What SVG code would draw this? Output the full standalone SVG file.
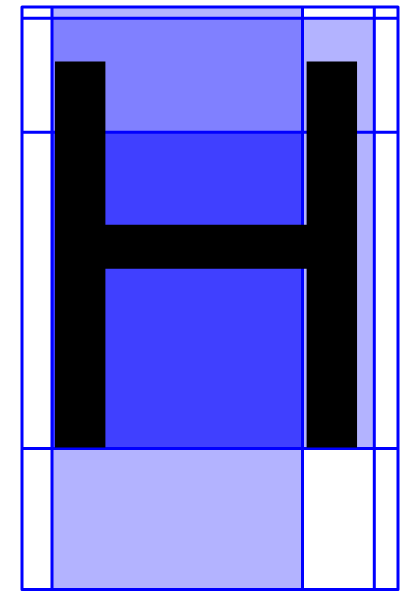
<svg xmlns="http://www.w3.org/2000/svg" width="410" height="591" viewBox="0 0 410 591">
  <style>
    .l1 { fill: #b3b3ff; }
    .l2 { fill: #8080ff; }
    .l3 { fill: #4040ff; }
    .ln { stroke: #0000ff; stroke-width: 3; fill: none; stroke-linejoin: round; }
    .glyph { font-family: "Liberation Sans", Arial, sans-serif; font-size: 561px; fill: #000000; }
  </style>
  <rect width="410" height="591" fill="#ffffff"/>
  <g id="areas">
    <rect class="l1" x="52" y="7" width="250.5" height="583"/>
    <rect class="l1" x="302.5" y="18.3" width="71.8" height="430.2"/>
    <rect class="l2" x="52" y="18.3" width="250.5" height="114"/>
    <rect class="l3" x="52" y="132.3" width="250.5" height="316.2"/>
  </g>
  <g id="lines">
    <rect class="ln" x="22" y="7" width="376" height="582.5"/>
    <line class="ln" x1="22" y1="18.3" x2="398" y2="18.3"/>
    <line class="ln" x1="22" y1="132.3" x2="398" y2="132.3"/>
    <line class="ln" x1="22" y1="448.5" x2="398" y2="448.5"/>
    <line class="ln" x1="52" y1="7" x2="52" y2="589.5"/>
    <line class="ln" x1="302.5" y1="7" x2="302.5" y2="589.5"/>
    <line class="ln" x1="374.3" y1="7" x2="374.3" y2="589.5"/>
  </g>
  <g id="glyph">
    <text class="glyph" transform="translate(10.6,447.5) scale(0.964,1)" x="0" y="0">H</text>
  </g>
</svg>
